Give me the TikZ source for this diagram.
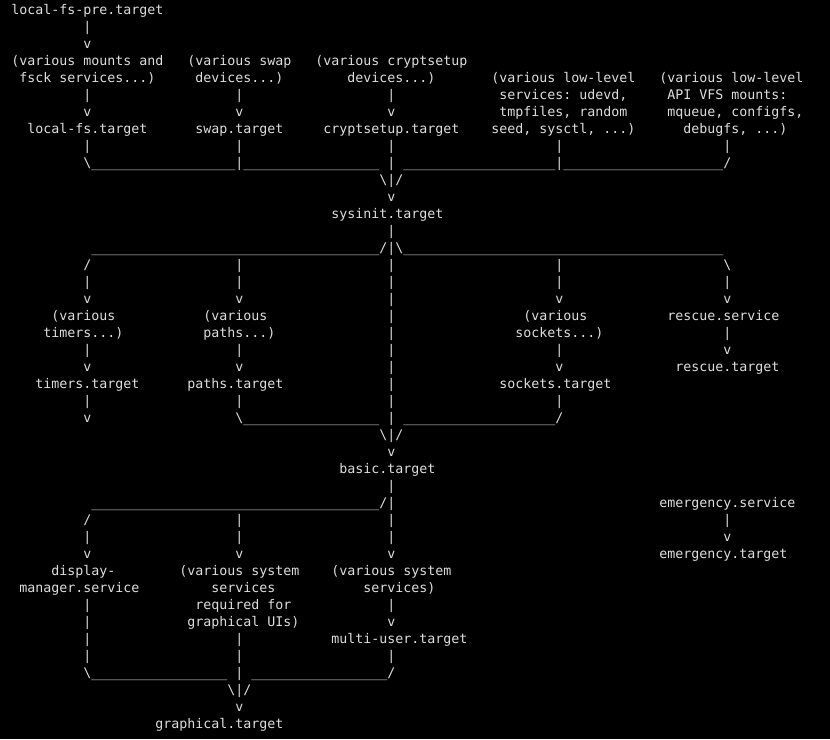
\documentclass[tikz,border=0pt]{standalone}
\usepackage{fontspec}
\newfontfamily\asciimono{DejaVu Sans Mono}
\definecolor{termfg}{RGB}{222,222,222}
\ExplSyntaxOn
\NewDocumentCommand\usrun{m}{\prg_replicate:nn{#1}{\textunderscore}}
\ExplSyntaxOff
\tikzset{
  term/.style={anchor=base west, inner sep=0pt, outer sep=0pt, text=termfg,
    font=\asciimono\fontsize{13.288pt}{17pt}\selectfont\frenchspacing},
}
% labelled text: name, column, line, text
\newcommand\At[4]{\node[term] (#1) at ({11.4pt+#2*8pt},{-14.2pt-#3*17pt}) {#4};}
% ascii connector characters: column, line, text
\newcommand\Ch[3]{\node[term] (a#2x#1) at ({11.4pt+#1*8pt},{-14.2pt-#2*17pt}) {#3};}
\begin{document}
\begin{tikzpicture}
\fill[black] (0,0) rectangle (830pt,-739pt);
\useasboundingbox (0,0) rectangle (830pt,-739pt);
% line 0-2
\At{lfspre}{0}{0}{local-fs-pre.target}
\Ch{9}{1}{|}
\Ch{9}{2}{v}
% line 3
\At{mounts1}{0}{3}{(various mounts and}
\At{swap1}{22}{3}{(various swap}
\At{crypt1}{38}{3}{(various cryptsetup}
% line 4
\At{mounts2}{1}{4}{fsck services...)}
\At{swap2}{23}{4}{devices...)}
\At{crypt2}{42}{4}{devices...)}
\At{lowsvc1}{60}{4}{(various low-level}
\At{vfs1}{81}{4}{(various low-level}
% line 5
\Ch{9}{5}{|}\Ch{28}{5}{|}\Ch{47}{5}{|}
\At{lowsvc2}{61}{5}{services: udevd,}
\At{vfs2}{82}{5}{API VFS mounts:}
% line 6
\Ch{9}{6}{v}\Ch{28}{6}{v}\Ch{47}{6}{v}
\At{lowsvc3}{61}{6}{tmpfiles, random}
\At{vfs3}{82}{6}{mqueue, configfs,}
% line 7
\At{localfs}{2}{7}{local-fs.target}
\At{swapt}{23}{7}{swap.target}
\At{cryptt}{39}{7}{cryptsetup.target}
\At{lowsvc4}{60}{7}{seed, sysctl, ...)}
\At{vfs4}{84}{7}{debugfs, ...)}
% line 8
\Ch{9}{8}{|}\Ch{28}{8}{|}\Ch{47}{8}{|}\Ch{68}{8}{|}\Ch{89}{8}{|}
% line 9
\Ch{9}{9}{\textbackslash\usrun{18}|\usrun{17} | \usrun{19}|\usrun{20}/}
\Ch{46}{10}{\textbackslash|/}
\Ch{47}{11}{v}
\At{sysinit}{40}{12}{sysinit.target}
\Ch{47}{13}{|}
\Ch{10}{14}{\usrun{36}/|\textbackslash\usrun{40}}
% line 15-17
\Ch{9}{15}{/}\Ch{28}{15}{|}\Ch{47}{15}{|}\Ch{68}{15}{|}\Ch{89}{15}{\textbackslash}
\Ch{9}{16}{|}\Ch{28}{16}{|}\Ch{47}{16}{|}\Ch{68}{16}{|}\Ch{89}{16}{|}
\Ch{9}{17}{v}\Ch{28}{17}{v}\Ch{47}{17}{|}\Ch{68}{17}{v}\Ch{89}{17}{v}
% line 18
\At{timers1}{5}{18}{(various}
\At{paths1}{24}{18}{(various}
\Ch{47}{18}{|}
\At{sockets1}{64}{18}{(various}
\At{rescuesvc}{82}{18}{rescue.service}
% line 19
\At{timers2}{4}{19}{timers...)}
\At{paths2}{24}{19}{paths...)}
\Ch{47}{19}{|}
\At{sockets2}{63}{19}{sockets...)}
\Ch{89}{19}{|}
% line 20-21
\Ch{9}{20}{|}\Ch{28}{20}{|}\Ch{47}{20}{|}\Ch{68}{20}{|}\Ch{89}{20}{v}
\Ch{9}{21}{v}\Ch{28}{21}{v}\Ch{47}{21}{|}\Ch{68}{21}{v}
\At{rescuet}{83}{21}{rescue.target}
% line 22
\At{timerst}{3}{22}{timers.target}
\At{pathst}{22}{22}{paths.target}
\Ch{47}{22}{|}
\At{socketst}{61}{22}{sockets.target}
% line 23-24
\Ch{9}{23}{|}\Ch{28}{23}{|}\Ch{47}{23}{|}\Ch{68}{23}{|}
\Ch{9}{24}{v}
\Ch{28}{24}{\textbackslash\usrun{17} | \usrun{19}/}
\Ch{46}{25}{\textbackslash|/}
\Ch{47}{26}{v}
\At{basic}{41}{27}{basic.target}
\Ch{47}{28}{|}
% line 29
\Ch{10}{29}{\usrun{36}/|}
\At{emergsvc}{81}{29}{emergency.service}
% line 30-32
\Ch{9}{30}{/}\Ch{28}{30}{|}\Ch{47}{30}{|}\Ch{89}{30}{|}
\Ch{9}{31}{|}\Ch{28}{31}{|}\Ch{47}{31}{|}\Ch{89}{31}{v}
\Ch{9}{32}{v}\Ch{28}{32}{v}\Ch{47}{32}{v}
\At{emergt}{81}{32}{emergency.target}
% line 33-34
\At{dm1}{5}{33}{display-}
\At{gsvc1}{21}{33}{(various system}
\At{msvc1}{40}{33}{(various system}
\At{dm2}{1}{34}{manager.service}
\At{gsvc2}{25}{34}{services}
\At{msvc2}{44}{34}{services)}
% line 35-36
\Ch{9}{35}{|}
\At{gsvc3}{23}{35}{required for}
\Ch{47}{35}{|}
\Ch{9}{36}{|}
\At{gsvc4}{22}{36}{graphical UIs)}
\Ch{47}{36}{v}
% line 37-38
\Ch{9}{37}{|}\Ch{28}{37}{|}
\At{multiuser}{40}{37}{multi-user.target}
\Ch{9}{38}{|}\Ch{28}{38}{|}\Ch{47}{38}{|}
% line 39-42
\Ch{9}{39}{\textbackslash\usrun{17} | \usrun{17}/}
\Ch{27}{40}{\textbackslash|/}
\Ch{28}{41}{v}
\At{graphical}{18}{42}{graphical.target}
\end{tikzpicture}
\end{document}
